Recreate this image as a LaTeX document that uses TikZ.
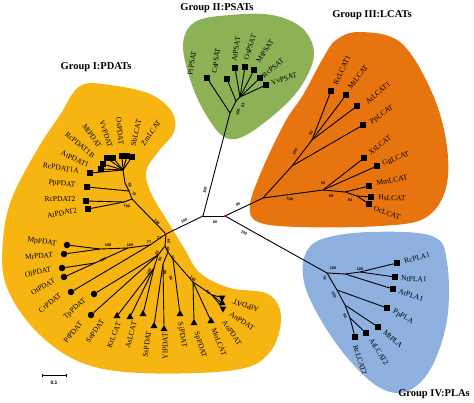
\documentclass[tikz,border=0pt]{standalone}
\usepackage{fontspec}
\setmainfont{Liberation Serif}
\setsansfont{Liberation Sans}
\usetikzlibrary{shapes.geometric, arrows.meta}
\definecolor{pdatyellow}{HTML}{F7B512}
\definecolor{psatgreen}{HTML}{8DB255}
\definecolor{lcatorange}{HTML}{E8740F}
\definecolor{plablue}{HTML}{8EB1E0}

\begin{document}
\begin{tikzpicture}[
    x=1pt, y=-1pt,
    blob/.style={smooth cycle, tension=0.6},
    br/.style={line width=0.9pt},
    sq/.style={fill=black, minimum size=6pt, inner sep=0pt},
    dot/.style={circle, fill=black, minimum size=6.5pt, inner sep=0pt},
    tri/.style={regular polygon, regular polygon sides=3, fill=black, minimum size=8pt, inner sep=0pt},
    lab/.style={font=\fontsize{7.5}{8}\selectfont, inner sep=0pt},
    bs/.style={font=\sffamily\bfseries\fontsize{3.8}{4}\selectfont, inner sep=0pt},
    grp/.style={font=\bfseries\fontsize{10.5}{12}\selectfont, inner sep=0pt},
]
\useasboundingbox (0,0) rectangle (474,402);

% Group shading
\fill[pdatyellow] plot[blob] coordinates {(60,115) (80,86) (110,85) (150,94) (172,112) (174,132) (158,152) (146,172) (152,195) (168,222) (184,248) (200,273) (230,288) (268,294) (281,317) (270,352) (235,370) (140,373) (80,362) (35,330) (6,285) (3,240) (12,198) (37,150)};
\fill[psatgreen] plot[blob] coordinates {(183,45) (195,22) (230,15) (272,15) (302,28) (314,52) (305,80) (284,106) (248,134) (226,138) (208,118) (192,85)};
\fill[lcatorange] plot[blob] coordinates {(336,40) (360,32) (400,42) (430,88) (446,140) (446,188) (425,218) (380,226) (300,227) (258,222) (250,205) (262,170) (285,122) (303,95) (322,60)};
\fill[plablue] plot[blob] coordinates {(305,255) (322,239) (370,232) (432,236) (447,262) (447,320) (430,370) (405,392) (377,386) (345,355) (318,315) (304,282)};

% Group titles
\node[grp] (titlei) at (96,67) {Group I:PDATs};
\node[grp] (titleii) at (217,8) {Group II:PSATs};
\node[grp] (titleiii) at (372,15) {Group III:LCATs};
\node[grp] (titleiv) at (434,394) {Group IV:PLAs};

% Inner nodes of the tree
\coordinate (a) at (203,216);
\coordinate (b) at (225,216);
% PSATs
\coordinate (ps0) at (230,113);
\coordinate (ps1) at (236,101);
\coordinate (ps2) at (240,97);
% PDATs
\coordinate (g1) at (166,234);
\coordinate (u1) at (132,199);
\coordinate (u2) at (124,202);
\coordinate (u3) at (129,191);
\coordinate (u4) at (125,183);
\coordinate (u5) at (123,170);
\coordinate (l1) at (150,245);
\coordinate (m2) at (128,248);
\coordinate (m1) at (100,249);
\coordinate (o1) at (95,263);
\coordinate (d1) at (165,246);
\coordinate (t1) at (158,255);
\coordinate (t2) at (154,268);
\coordinate (d2) at (168,252);
\coordinate (y1) at (163,264);
\coordinate (s1) at (173,259);
\coordinate (s2) at (193,282);
\coordinate (s3) at (212,295);
% LCATs
\coordinate (c0) at (263,198);
\coordinate (c1) at (292,166);
\coordinate (c2) at (312,140);
\coordinate (c4) at (323,190);
\coordinate (c6) at (345,192);
\coordinate (c7) at (357,196);
% PLAs
\coordinate (p0) at (327,273);
\coordinate (p1) at (345,274);
\coordinate (p2) at (360,272);
\coordinate (p3) at (337,290);
\coordinate (p4) at (345,305);
\coordinate (p5) at (350,318);

% Leaves - squares
\foreach \n/\x/\y in {rcpdatia/90/173, atpdati/101/169, rcpdatib/103/164, mtpdat/107/158, vvpdat/113/158, ospdat/122/156, sblcat/127/156, zmlcat/132/157, pppdat/87/187, rcpdatii/86/201, atpdatii/88/209,
    ptpsat/207/78, cspsat/227/79, atpsat/235/68, ospsat/245/67, mtpsat/254/70, rcpsat/260/78, vvpsat/266/85,
    rclcati/331/91, mtlcat/346/95, atlcati/357/106, pplcat/363/125, xtlcat/364/158, gglcat/377/166, mmlcat/369/186, hslcat/371/197, oclcat/369/204,
    rcplai/397/263, ntplai/395/277, atplai/393/289, pppla/387/308, mtpla/378/327, atlcatii/366/333, rclcatii/355/337}
    \node[sq] (\n) at (\x,\y) {};

% Leaves - circles
\foreach \n/\x/\y in {mppdat/67/245, mrpdat/64/254, olpdat/62/268, otpdat/64/277, crpdat/71/292, tppdat/94/294, ptpdat/91/315}
    \node[dot] (\n) at (\x,\y) {};

% Leaves - triangles
\foreach \n/\x/\y/\r in {sepdat/117/316/0, ktlcat/130/317/0, aslcat/143/314/0, sspdat/154/326/0, ylpdat/164/329/0, sjpdat/180/314/0, sppdat/194/323/0, molcat/211/321/0, afpdat/222/297.5/180, anpdat/222/303/0, aopdat/223/308.5/180}
    \node[tri, rotate=\r] (\n) at (\x,\y) {};

% Branches
\foreach \p/\c in {a/b, a/ps0, a/g1, b/c0, b/p0,
    ps0/ptpsat, ps0/ps1, ps1/cspsat, ps1/ps2, ps2/atpsat, ps2/ospsat, ps2/mtpsat, ps2/rcpsat, ps2/vvpsat,
    g1/u1, u1/u2, u2/rcpdatii, u2/atpdatii, u1/u3, u3/pppdat, u3/u4, u4/u5,
    u5/rcpdatia, u5/atpdati, u5/rcpdatib, u5/mtpdat, u5/vvpdat, u5/ospdat, u5/sblcat, u5/zmlcat,
    g1/l1, l1/m2, l1/crpdat, m2/m1, m2/o1, m1/mppdat, m1/mrpdat, o1/olpdat, o1/otpdat,
    g1/d1, d1/t1, d1/d2, t1/tppdat, t1/ptpdat, t1/t2, t2/sepdat, t2/ktlcat, t2/aslcat,
    d2/y1, d2/s1, y1/sspdat, y1/ylpdat, s1/sjpdat, s1/s2, s2/sppdat, s2/molcat, s2/s3, s3/aopdat, s3/anpdat, s3/afpdat,
    c0/c1, c1/c2, c1/pplcat, c2/rclcati, c2/mtlcat, c2/atlcati, c0/c4, c4/xtlcat, c4/gglcat, c4/c6, c6/mmlcat, c6/c7, c7/hslcat, c7/oclcat,
    p0/p1, p1/p2, p2/rcplai, p2/ntplai, p1/atplai, p0/p3, p3/pppla, p3/p4, p4/mtpla, p4/p5, p5/atlcatii, p5/rclcatii}
    \draw[br] (\p) -- (\c);
\fill[red] (b) circle (1.2pt);
\fill[red] (g1) circle (1.2pt);

% Leaf labels
\foreach \n/\x/\y/\r/\t in {rcpdatia/61/168/-10/RcPDAT1A, atpdati/75/159/-25/AtPDAT1, rcpdatib/80/145/-40/RcPDAT1B, mtpdat/92/136/-55/MtPDAT, vvpdat/106/134/-72/VvPDAT, ospdat/120/131/-85/OsPDAT, sblcat/136/133/78/SbLCAT, zmlcat/151/133/55/ZmLCAT,
    pppdat/62/184/-5/PpPDAT, rcpdatii/60/199/0/RcPDAT2, atpdatii/62/213/12/AtPDAT2,
    mppdat/42/242/-8/MpPDAT, mrpdat/39/256/5/MrPDAT, olpdat/38/272/12/OlPDAT, otpdat/43/287/30/OtPDAT, crpdat/50/303/38/CrPDAT, tppdat/75/309/42/TpPDAT, ptpdat/73/332/50/PtPDAT,
    sepdat/95/331/55/SePDAT, ktlcat/114/335/68/KtLCAT, aslcat/131/335/75/AsLCAT, sspdat/147/344/82/SsPDAT, ylpdat/165/346/90/YlPDAT, sjpdat/182/335/-80/SjPDAT, sppdat/200/345/-72/SpPDAT, molcat/219/342/-68/MoLCAT,
    aopdat/232/333/-55/AoPDAT, anpdat/242/321/-35/AnPDAT, afpdat/246/306/162/AfPDAT,
    ptpsat/192/63/80/PtPSAT, cspsat/216/61/82/CsPSAT, atpsat/236/49/82/AtPSAT, ospsat/250/47/72/OsPSAT, mtpsat/265/51/57/MtPSAT, rcpsat/273/68/40/RcPSAT, vvpsat/284/79/20/VvPSAT,
    rclcati/342/70/65/RcLCAT1, mtlcat/358/77/52/MtLCAT, atlcati/378/93/42/AtLCAT1, pplcat/382/115/35/PpLCAT, xtlcat/380/145/38/XtLCAT, gglcat/396/159/20/GgLCAT, mmlcat/392/180/12/MmLCAT, hslcat/392/198/-3/HsLCAT, oclcat/387/213/-20/OcLCAT,
    rcplai/417/258/15/RcPLA1, ntplai/414/279/-3/NtPLA1, atplai/411/295/-18/AtPLA1, pppla/403/317/-30/PpPLA, mtpla/393/339/-42/MtPLA, atlcatii/379/352/-58/AtLCAT2, rclcatii/360/360/-72/RcLCAT2}
    \node[lab, rotate=\r] (\n-l) at (\x,\y) {\t};

% Bootstrap values
\foreach \x/\y/\r/\v [count=\i] in {205/190/78/100, 184/221/28/100, 215/222/0/80, 238/204/28/85, 244/233/-30/100,
    157/222/-48/100, 134/194/-50/73, 130/185/-75/90, 127/206/-10/100,
    238/112/78/100, 243/105/80/61,
    159/238/0/73, 149/242/0/77, 169/241/-80/62, 168/249/-75/99, 157/253/60/81, 160/259/80/96, 173/258/-70/61, 149/272/60/100, 165/272/-85/98, 171/278/-75/96, 193/279/-40/100, 208/292/-40/48, 130/245/0/100, 108/245/0/100, 103/260/28/100,
    290/199/-10/100, 323/183/0/93, 331/196/0/99, 350/200/0/84, 295/152/55/100, 311/133/60/93,
    325/278/70/97, 333/268/0/100, 360/269/0/100, 334/295/-65/100, 345/316/-70/60}
    \node[bs, rotate=\r] (bs\i) at (\x,\y) {\v};

% Scale bar
\coordinate (sbl) at (42,375);
\coordinate (sbr) at (67,375);
\draw[{Bar[width=3pt]}-{Bar[width=3pt]}, line width=0.6pt] (sbl) -- (sbr);
\node[bs, font=\sffamily\bfseries\fontsize{5}{5}\selectfont] (sbt) at (54,383) {0.1};

\end{tikzpicture}
\end{document}
